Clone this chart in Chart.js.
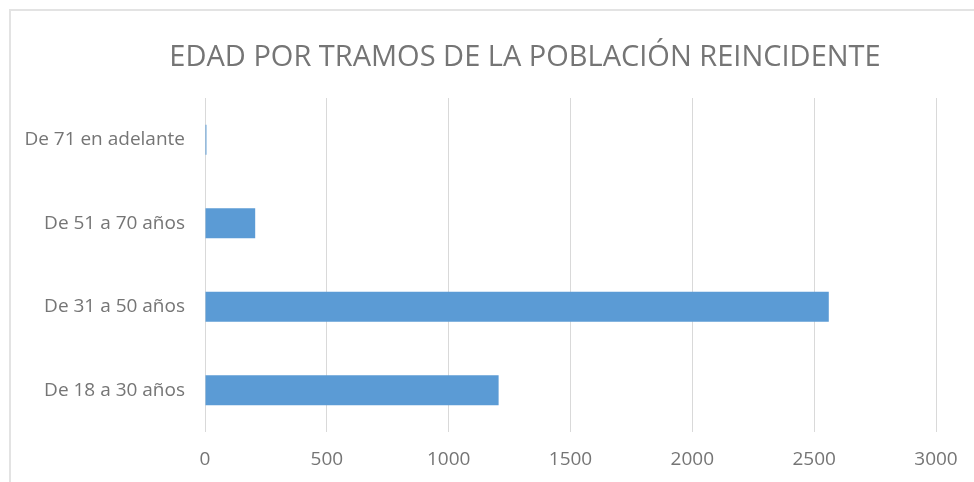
<!DOCTYPE html>
<html>
<head>
<meta charset="utf-8">
<script src="https://cdn.jsdelivr.net/npm/chart.js@4/dist/chart.umd.min.js"></script>
<style>
  html, body { margin: 0; padding: 0; background: #fff; }
  #wrap { position: relative; width: 974px; height: 482px; overflow: hidden; }
  #frame { position: absolute; left: 9px; top: 9px; width: 1000px; height: 500px;
           border-top: 2px solid #e3e3e3; border-left: 2px solid #e3e3e3; box-sizing: border-box; }
  canvas { position: absolute; left: 0; top: 0; }
</style>
</head>
<body>
<div id="wrap">
  <div id="frame"></div>
  <canvas id="c" width="974" height="482"></canvas>
</div>
<script>
const titleText = "EDAD POR TRAMOS DE LA POBLACIÓN REINCIDENTE";
const categories = ["De 71 en adelante", "De 51 a 70 años", "De 31 a 50 años", "De 18 a 30 años"];
const values = [6, 206, 2560, 1205];
const xTicks = [0, 500, 1000, 1500, 2000, 2500, 3000];

const FONT = "'Open Sans', Calibri, sans-serif";
const TEXT = "#757575";

const titlePlugin = {
  id: "offsetTitle",
  afterDraw(chart) {
    const ctx = chart.ctx;
    ctx.save();
    ctx.fillStyle = TEXT;
    ctx.font = "29px " + FONT;
    ctx.textAlign = "center";
    ctx.textBaseline = "middle";
    ctx.fillText(titleText, 525, 58);
    ctx.restore();
  }
};

new Chart(document.getElementById("c"), {
  type: "bar",
  data: {
    labels: categories,
    datasets: [{
      data: values,
      backgroundColor: "#5b9bd5",
      borderWidth: 0,
      barPercentage: 0.36,
      categoryPercentage: 1
    }]
  },
  options: {
    indexAxis: "y",
    responsive: false,
    animation: false,
    layout: { padding: { left: 0, right: 38, top: 98, bottom: 0 } },
    plugins: {
      legend: { display: false },
      tooltip: { enabled: false },
      title: { display: false }
    },
    scales: {
      x: {
        min: xTicks[0],
        max: xTicks[xTicks.length - 1],
        afterBuildTicks: (s) => { s.ticks = xTicks.map(v => ({ value: v })); },
        afterFit: (s) => { s.height = 50; },
        grid: { color: "#d9d9d9", lineWidth: 1, drawTicks: false },
        border: { display: false },
        ticks: { color: TEXT, font: { family: FONT, size: 19 }, padding: 16, maxRotation: 0,
                 callback: (v) => String(v) }
      },
      y: {
        afterFit: (s) => { s.width = 205; },
        grid: { display: false, drawTicks: false },
        border: { display: false },
        ticks: { color: TEXT, font: { family: FONT, size: 19 }, padding: 20 }
      }
    }
  },
  plugins: [titlePlugin]
});
</script>
</body>
</html>
